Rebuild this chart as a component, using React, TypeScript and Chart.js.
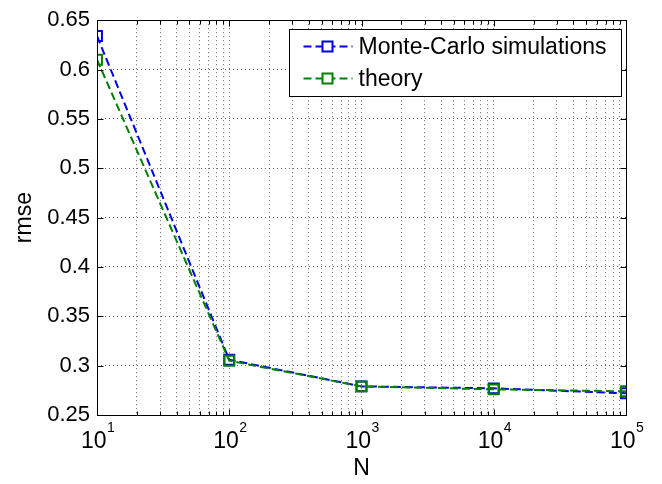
import React, { useEffect, useRef } from "react";
import { Chart, registerables } from "chart.js";

Chart.register(...registerables);

// ---- data ----
const nValues = [10, 100, 1000, 10000, 100000];
const monteCarloRmse = [0.634, 0.306, 0.279, 0.277, 0.272];
const theoryRmse = [0.61, 0.305, 0.279, 0.276, 0.274];
const seriesLabels = ["Monte-Carlo simulations", "theory"];
const seriesColors = ["rgb(0,0,230)", "rgb(0,128,0)"];
const yTickValues = [0.25, 0.3, 0.35, 0.4, 0.45, 0.5, 0.55, 0.6, 0.65];
const xDecades = [10, 100, 1000, 10000, 100000];
const xMinorMultipliers = [2, 3, 4, 5, 6, 7, 8, 9];
const xTitle = "N";
const yTitle = "rmse";

const FONT = '"Liberation Sans", Arial, Helvetica, sans-serif';

function buildXTicks(): number[] {
  const out: number[] = [];
  for (let i = 0; i < xDecades.length - 1; i++) {
    out.push(xDecades[i]);
    for (const m of xMinorMultipliers) out.push(m * xDecades[i]);
  }
  out.push(xDecades[xDecades.length - 1]);
  return out;
}
const xTickValues = buildXTicks();

const matlabPlugin = {
  id: "matlabFrame",
  afterDatasetsDraw(chart: any) {
    const { ctx, chartArea: a, scales } = chart;
    const xs = scales.x;
    const ys = scales.y;
    const L = Math.round(a.left) + 0.5;
    const R = Math.round(a.right) + 0.5;
    const T = Math.round(a.top) + 0.5;
    const B = Math.round(a.bottom) + 0.5;
    ctx.save();
    ctx.setLineDash([]);
    ctx.strokeStyle = "#000";
    ctx.lineWidth = 1;
    // inner ticks
    ctx.beginPath();
    for (const v of xTickValues) {
      const px = Math.round(xs.getPixelForValue(v)) + 0.5;
      const len = xDecades.includes(v) ? 6 : 4;
      ctx.moveTo(px, B);
      ctx.lineTo(px, B - len);
      ctx.moveTo(px, T);
      ctx.lineTo(px, T + len);
    }
    for (const v of yTickValues) {
      const py = Math.round(ys.getPixelForValue(v)) + 0.5;
      ctx.moveTo(L, py);
      ctx.lineTo(L + 6, py);
      ctx.moveTo(R, py);
      ctx.lineTo(R - 6, py);
    }
    ctx.stroke();
    // box
    ctx.strokeRect(L, T, R - L, B - T);

    // exponents of x tick labels
    ctx.fillStyle = "#000";
    ctx.font = `23px ${FONT}`;
    const wBase = ctx.measureText("10").width;
    const wFull = ctx.measureText("10 ").width;
    ctx.font = `14px ${FONT}`;
    ctx.textAlign = "left";
    ctx.textBaseline = "alphabetic";
    for (const d of xDecades) {
      const px = xs.getPixelForValue(d);
      const left = px - wFull / 2;
      ctx.fillText(String(Math.round(Math.log10(d))), left + wBase + 0.5, xs.top + 17);
    }

    // legend
    const bw = 332;
    const bh = 67;
    const bx = Math.round(a.right) - 337 + 0.5;
    const by = Math.round(a.top) + 9 + 0.5;
    ctx.fillStyle = "#fff";
    ctx.fillRect(bx, by, bw, bh);
    ctx.strokeStyle = "#000";
    ctx.strokeRect(bx, by, bw, bh);
    const rows = [by + 17, by + 49];
    chart.data.datasets.forEach((ds: any, i: number) => {
      const cy = rows[i];
      ctx.strokeStyle = ds.borderColor;
      ctx.lineWidth = 2;
      ctx.setLineDash([8, 4]);
      ctx.beginPath();
      ctx.moveTo(bx + 14, cy);
      ctx.lineTo(bx + 63, cy);
      ctx.stroke();
      ctx.setLineDash([]);
      ctx.fillStyle = "#fff";
      ctx.fillRect(bx + 33, cy - 5, 10, 10);
      ctx.strokeRect(bx + 33, cy - 5, 10, 10);
      ctx.fillStyle = "#000";
      ctx.font = `23px ${FONT}`;
      ctx.textBaseline = "middle";
      ctx.textAlign = "left";
      ctx.fillText(ds.label, bx + 69, cy + 1);
    });
    ctx.restore();
  },
};

export default function App() {
  const ref = useRef<HTMLCanvasElement | null>(null);

  useEffect(() => {
    if (!ref.current) return;
    Chart.defaults.font.family = FONT;
    const gridColor = "rgba(0,0,0,0.6)";
    const datasets = [monteCarloRmse, theoryRmse].map((vals, i) => ({
      label: seriesLabels[i],
      data: nValues.map((n, j) => ({ x: n, y: vals[j] })),
      borderColor: seriesColors[i],
      backgroundColor: "rgba(0,0,0,0)",
      borderWidth: 2,
      borderDash: [8, 4],
      pointStyle: "rect",
      pointRadius: 7,
      pointBorderWidth: 2,
      pointBorderColor: seriesColors[i],
      pointBackgroundColor: "rgba(0,0,0,0)",
      tension: 0,
      fill: false,
      order: i === 0 ? 1 : 0,
    }));
    const chart = new Chart(ref.current, {
      type: "line",
      data: { datasets } as any,
      plugins: [matlabPlugin],
      options: {
        animation: false,
        responsive: false,
        maintainAspectRatio: false,
        layout: { padding: { top: 12, right: 36, bottom: 0, left: 0 } },
        plugins: { legend: { display: false }, tooltip: { enabled: false } },
        scales: {
          x: {
            type: "logarithmic",
            min: 10,
            max: 100000,
            afterBuildTicks: (s: any) => {
              s.ticks = xTickValues.map((v) => ({ value: v }));
            },
            afterFit: (s: any) => {
              s.height = 69;
            },
            ticks: {
              autoSkip: false,
              maxRotation: 0,
              minRotation: 0,
              padding: 13,
              color: "#000",
              font: { family: FONT, size: 23 },
              callback: (v: any) => (xDecades.includes(Number(v)) ? "10 " : ""),
            },
            grid: { color: gridColor, lineWidth: 1, drawTicks: false },
            border: { display: false, dash: [1, 3] },
            title: {
              display: true,
              text: xTitle,
              color: "#000",
              font: { family: FONT, size: 23 },
              padding: { top: 0, bottom: 2 },
            },
          },
          y: {
            type: "linear",
            min: 0.25,
            max: 0.65,
            afterBuildTicks: (s: any) => {
              s.ticks = yTickValues.map((v) => ({ value: v }));
            },
            afterFit: (s: any) => {
              s.width = 97;
            },
            ticks: {
              padding: 7,
              color: "#000",
              font: { family: FONT, size: 22 },
              callback: (v: any) => String(v),
            },
            grid: { color: gridColor, lineWidth: 1, drawTicks: false },
            border: { display: false, dash: [1, 3] },
            title: {
              display: true,
              text: yTitle,
              color: "#000",
              font: { family: FONT, size: 23 },
              padding: { top: 11, bottom: 0 },
            },
          },
        },
      } as any,
    });
    return () => chart.destroy();
  }, []);

  return (
    <div style={{ position: "fixed", left: 0, top: 0, width: 662, height: 484, background: "#fff" }}>
      <canvas ref={ref} width={662} height={484} style={{ display: "block", width: 662, height: 484 }} />
    </div>
  );
}
